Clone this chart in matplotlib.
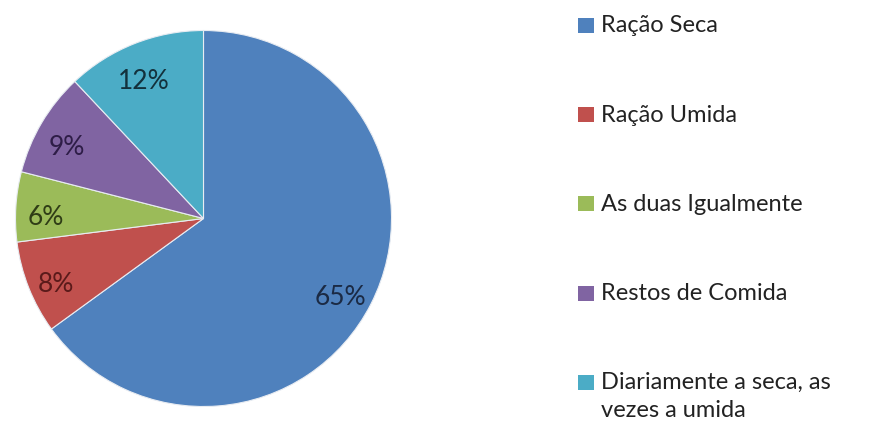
import matplotlib.pyplot as plt
import matplotlib.transforms as mtransforms
from matplotlib.patches import Rectangle

# dados do grafico
categorias = ['Ração Seca', 'Ração Umida', 'As duas Igualmente',
              'Restos de Comida', 'Diariamente a seca, as\nvezes a umida']
valores = [65, 8, 6, 9, 12]
cores = ['#4F81BD', '#C0504D', '#9BBB59', '#8064A2', '#4BACC6']
cores_texto = ['#1B2A44', '#5A1A1A', '#2F3D16', '#2E1D47', '#13313C']

plt.rcParams['font.family'] = ['Lato', 'DejaVu Sans']

W, H = 869, 423
fig = plt.figure(figsize=(W / 100, H / 100), dpi=100)
fig.patch.set_facecolor('white')

# pizza: centro (203.5, 218.5) px, raio 188 px
cx, cy, r = 203.5, 218.5, 188
ax = fig.add_axes([(cx - r) / W, (H - cy - r) / H, 2 * r / W, 2 * r / H])
wedges, _, autotexts = ax.pie(
    valores, colors=cores, startangle=90, counterclock=False,
    autopct='%1.0f%%', pctdistance=0.83, radius=1,
    wedgeprops=dict(edgecolor='#E8ECF2', linewidth=0.8),
    textprops=dict(fontsize=19))
# rotulos um pouco mais para baixo
desloc = mtransforms.ScaledTranslation(-2 / 100, -6 / 100, fig.dpi_scale_trans)
for t, c in zip(autotexts, cores_texto):
    t.set_color(c)
    t.set_va('center_baseline')
    t.set_transform(t.get_transform() + desloc)
ax.set_xlim(-1, 1)
ax.set_ylim(-1, 1)
ax.set_aspect('equal')
ax.axis('off')

# legenda desenhada a mao
y0, passo = 25.5, 89.2
for i, (nome, cor) in enumerate(zip(categorias, cores)):
    y = y0 + i * passo
    fig.add_artist(Rectangle((578 / W, (H - y - 7.5) / H), 16 / W, 15 / H,
                             transform=fig.transFigure, facecolor=cor,
                             edgecolor='none'))
    for k, linha in enumerate(nome.split('\n')):
        fig.text(601 / W, (H - y - 7 - 28 * k) / H, linha, fontsize=17,
                 color='#222222', va='baseline', ha='left')

fig.savefig('out.png', dpi=100)
